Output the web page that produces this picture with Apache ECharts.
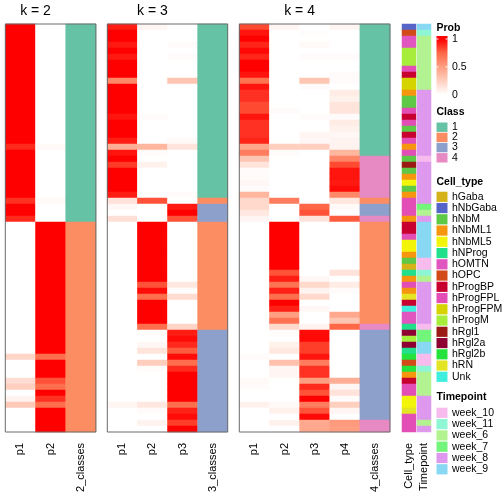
<!DOCTYPE html>
<html><head><meta charset="utf-8">
<script src="https://cdn.jsdelivr.net/npm/echarts/dist/echarts.min.js"></script>
<style>html,body{margin:0;padding:0;background:#fff}#c{width:504px;height:504px}</style>
</head><body><div id="c"></div>
<script>
// ---------- data ----------
const k2Cols = ['p1', 'p2', '2_classes'];
const k3Cols = ['p1', 'p2', 'p3', '3_classes'];
const k4Cols = ['p1', 'p2', 'p3', 'p4', '4_classes'];

const k2_p1 = [
1,1,1,1,1,1,1,1,1,1,
1,1,1,1,1,1,1,1,1,1,
0.9,1,1,1,1,1,1,1,1,0.88,
1,1,0.9,0,0,0,0,0,0,0,
0,0,0,0,0,0,0,0,0,0,
0,0,0,0,0,0.22,0,0,0,0.18,
0.25,0,0.06,0.28,0,0,0,0];
const k2_p2 = [
0,0,0,0,0,0,0,0,0,0,
0,0,0,0,0,0,0,0,0,0,
0.03,0,0,0,0,0,0,0,0,0.03,
0,0,0,1,1,1,1,1,1,1,
1,1,1,1,1,1,1,1,1,1,
1,1,1,1,1,0.72,1,1,1,0.8,
0.72,1,0.88,0.72,1,1,1,1];
const k2_class = [
1,1,1,1,1,1,1,1,1,1,
1,1,1,1,1,1,1,1,1,1,
1,1,1,1,1,1,1,1,1,1,
1,1,1,2,2,2,2,2,2,2,
2,2,2,2,2,2,2,2,2,2,
2,2,2,2,2,2,2,2,2,2,
2,2,2,2,2,2,2,2];

const k3_p1 = [
0.93,1,1,0.94,1,0.94,1,1,1,0.6,
1,1,1,1,1,0.95,1,1,1,0.93,
0.42,0.95,1,0.86,1,1,1,1,0.93,0.15,
0.04,0,0.16,0,0,0,0,0,0,0,
0,0,0,0,0,0,0,0,0,0,
0,0,0,0,0,0,0,0,0,0,
0,0,0,0.05,0,0,0,0];
const k3_p2 = [
0.05,0,0,0,0,0,0,0,0,0,
0,0,0,0,0,0.02,0,0,0,0,
0.38,0.02,0,0.07,0,0,0,0,0,0.8,
0,0,0,1,1,1,1,1,1,1,
1,1,1,0.8,0.97,0.72,1,1,1,1,
0.72,0.01,0,0.04,0.14,0,0.26,0.02,0,0,
0,0,0,0.12,0.02,0,0.06,0];
const k3_p3 = [
0,0,0,0.02,0,0.02,0,0,0,0.3,
0,0,0,0,0,0,0,0,0,0.03,
0.14,0,0,0,0,0,0,0,0.02,0,
0.94,1,0.8,0,0,0,0,0,0,0,
0,0,0,0.12,0.01,0.18,0,0,0,0,
0.22,0.93,0.97,0.9,0.78,0.97,0.72,0.9,1,1,
1,1,1,0.72,0.92,0.97,0.85,1];
const k3_class = [
1,1,1,1,1,1,1,1,1,1,
1,1,1,1,1,1,1,1,1,1,
1,1,1,1,1,1,1,1,1,2,
3,3,3,2,2,2,2,2,2,2,
2,2,2,2,2,2,2,2,2,2,
2,3,3,3,3,3,3,3,3,3,
3,3,3,3,3,3,3,3];

const k4_p1 = [
0.82,0.95,1,0.91,0.98,0.91,1,1,0.95,0.7,
0.95,0.88,0.88,0.82,0.82,0.95,0.88,0.88,0.88,0.91,
0.45,0.65,0.3,0.14,0.02,0.02,0.04,0.02,0.38,0.2,
0.2,0.12,0.05,0,0,0,0,0,0,0,
0,0,0,0,0,0,0,0,0,0,
0,0,0,0,0,0.02,0,0,0,0.03,
0.02,0,0,0.07,0,0,0,0];
const k4_p2 = [
0.05,0,0,0,0,0,0,0,0,0,
0,0,0,0,0.02,0,0,0,0,0,
0.25,0.02,0,0,0,0,0,0,0,0.65,
0,0,0,1,1,1,1,1,1,1,
1,0.8,0.93,0.7,0.92,0.72,1,0.92,0.5,0.7,
0.2,0.01,0,0.07,0.12,0,0.32,0.05,0.05,0,
0,0,0,0.03,0.07,0,0.07,0];
const k4_p3 = [
0,0.01,0,0.03,0,0.02,0,0,0,0.3,
0.02,0,0,0,0,0.02,0,0,0.05,0.04,
0.25,0,0,0,0,0,0,0,0,0,
0.75,0.8,0.15,0,0,0,0,0,0,0,
0,0,0.04,0.2,0.06,0.2,0,0.04,0,0,
0.06,0.97,0.98,0.85,0.85,0.95,0.65,0.88,0.88,0.5,
0.9,0.8,1,0.65,0.8,0.98,0.45,0.45];
const k4_p4 = [
0.05,0,0,0,0,0.02,0,0,0.02,0.02,
0,0.1,0.07,0.14,0.14,0.02,0.1,0.07,0.04,0.06,
0.06,0.38,0.62,0.82,0.95,0.95,0.94,0.97,0.6,0.13,
0.03,0,0.78,0,0,0,0,0,0,0,
0,0.15,0,0.1,0.02,0,0,0,0.45,0.3,
0.75,0,0,0,0,0,0,0,0,0.42,
0.05,0.15,0.02,0.25,0.05,0,0.52,0.5];
const k4_class = [
1,1,1,1,1,1,1,1,1,1,
1,1,1,1,1,1,1,1,1,1,
1,1,4,4,4,4,4,4,4,2,
3,3,4,2,2,2,2,2,2,2,
2,2,2,2,2,2,2,2,2,2,
4,3,3,3,3,3,3,3,3,3,
3,3,3,3,3,3,4,4];

const cellType = [
'hNbGaba','hOPC','hOMTN','hOMTN','hProgM','hProgM','hProgM','hProgFPL','hProgBP','hProgFPM',
'hProgFPM','hNbML1','hNbM','hNbM','hProgFPL','hProgBP','hProgFPL','hNbM','hProgBP','hProgFPL',
'hNbML1','hProgFPL','hNbM','hRgl1','hNbM','hNbML1','hNbML5','hNbM','hNbML1','hProgFPL',
'hProgFPL','hProgFPL','hNbML1','hProgBP','hProgBP','hProgFPL','hNbML5','hNbML5','hNbML1','hNbM',
'hGaba','hNProg','hNbML1','hProgFPL','hNbML1','hRN','hProgBP','Unk','hOMTN','hOMTN',
'hNProg','hRgl2a','hProgM','hRgl2a','hNProg','hRgl2b','hOPC','hRgl2b','hNbML1','hProgBP',
'hProgFPL','hProgFPL','hNbML5','hNbML5','hRN','hProgFPL','hProgFPL','hProgFPL'];
const timepoint = [
'week_9','week_11','week_6','week_6','week_6','week_6','week_6','week_6','week_6','week_6',
'week_6','week_8','week_8','week_8','week_8','week_8','week_8','week_8','week_8','week_8',
'week_8','week_8','week_10','week_8','week_8','week_8','week_8','week_8','week_8','week_8',
'week_7','week_6','week_8','week_9','week_9','week_9','week_9','week_9','week_9','week_10',
'week_10','week_11','week_6','week_8','week_8','week_8','week_8','week_8','week_8','week_8',
'week_10','week_7','week_7','week_9','week_9','week_10','week_10','week_11','week_6','week_6',
'week_6','week_6','week_8','week_8','week_8','week_8','week_6','week_8'];

const classNames = ['1','2','3','4'];
const classColors = ['#66C2A5','#FC8D62','#8DA0CB','#E78AC3'];
const cellTypeNames = ['hGaba','hNbGaba','hNbM','hNbML1','hNbML5','hNProg','hOMTN','hOPC','hProgBP','hProgFPL','hProgFPM','hProgM','hRgl1','hRgl2a','hRgl2b','hRN','Unk'];
const cellTypeColors = ['#D4B218','#5566C8','#5EC847','#F6960E','#F2F50A','#20E08C','#E055C0','#D24A17','#C8002F','#E24DB6','#D5D400','#A7EE3C','#9A1B16','#8F0032','#26E23D','#E3E423','#40EEDD'];
const timeNames = ['week_10','week_11','week_6','week_7','week_8','week_9'];
const timeColors = ['#F8BBEE','#8EF6D4','#B2F290','#72F57A','#DE99EE','#88D7F3'];
const probTicks = ['1','0.5','0'];
const probColors = ['#FFFFFF','#FFCFBF','#FF9E81','#FF6746','#FF0000'];

// ---------- layout ----------
const FONT = "'Liberation Sans', Arial, Helvetica, sans-serif";
const TOP = 24, HEIGHT = 408;
const rowIds = k2_p1.map((_, i) => String(i));
const panels = [
  {left: 5.3, width: 90.6, cols: k2Cols, probs: [k2_p1, k2_p2], cls: k2_class, title: 'k = 2'},
  {left: 107.3, width: 120.4, cols: k3Cols, probs: [k3_p1, k3_p2, k3_p3], cls: k3_class, title: 'k = 3'},
  {left: 239.3, width: 150.7, cols: k4Cols, probs: [k4_p1, k4_p2, k4_p3, k4_p4], cls: k4_class, title: 'k = 4'}
];
const annots = [
  {left: 402, width: 14, name: 'Cell_type', vals: cellType.map(v => cellTypeNames.indexOf(v))},
  {left: 417, width: 14, name: 'Timepoint', vals: timepoint.map(v => timeNames.indexOf(v))}
];

const grids = [], xAxes = [], yAxes = [], series = [], graphics = [];
const probSeries = [], classSeries = [];
function xAxisFor(gi, cols) {
  return {type: 'category', gridIndex: gi, data: cols, position: 'bottom',
    axisLine: {show: false}, axisTick: {show: false}, splitLine: {show: false},
    axisLabel: {rotate: 90, fontSize: 11, color: '#000', margin: 11, fontFamily: FONT, interval: 0}};
}
function yAxisFor(gi) {
  return {type: 'category', gridIndex: gi, data: rowIds, inverse: true, show: false};
}
const hmBase = {type: 'heatmap', itemStyle: {borderWidth: 0}, emphasis: {disabled: true}, silent: true, progressive: 0, animation: false};

panels.forEach((p, gi) => {
  grids.push({left: p.left, top: TOP, width: p.width, height: HEIGHT});
  xAxes.push(xAxisFor(gi, p.cols));
  yAxes.push(yAxisFor(gi));
  const pd = [];
  p.probs.forEach((arr, ci) => arr.forEach((v, ri) => pd.push([ci, ri, v])));
  probSeries.push(series.length);
  series.push(Object.assign({}, hmBase, {xAxisIndex: gi, yAxisIndex: gi, data: pd}));
  const cd = p.cls.map((v, ri) => [p.probs.length, ri, v]);
  classSeries.push(series.length);
  series.push(Object.assign({}, hmBase, {xAxisIndex: gi, yAxisIndex: gi, data: cd}));
  graphics.push({type: 'rect', z: 100, silent: true,
    shape: {x: p.left, y: TOP, width: p.width, height: HEIGHT},
    style: {fill: null, stroke: '#6a6a6a', lineWidth: 1}});
  const colW = p.width / p.cols.length;
  graphics.push({type: 'text', z: 100, silent: true, x: p.left + colW * p.probs.length / 2, y: 11,
    style: {text: p.title, font: '14px ' + FONT, fill: '#000', textAlign: 'center', textVerticalAlign: 'middle'}});
});
const annotSeries = [];
annots.forEach((a, ai) => {
  const gi = panels.length + ai;
  grids.push({left: a.left, top: TOP, width: a.width, height: HEIGHT});
  xAxes.push(xAxisFor(gi, [a.name]));
  yAxes.push(yAxisFor(gi));
  annotSeries.push(series.length);
  series.push(Object.assign({}, hmBase, {xAxisIndex: gi, yAxisIndex: gi, data: a.vals.map((v, ri) => [0, ri, v])}));
});

// ---------- legends (graphic) ----------
const LX = 436.5, LTX = 452;
function title(text, y) {
  graphics.push({type: 'text', silent: true, x: LX, y: y,
    style: {text: text, font: 'bold 10.5px ' + FONT, fill: '#000', textVerticalAlign: 'middle'}});
}
function label(text, y) {
  graphics.push({type: 'text', silent: true, x: LTX, y: y,
    style: {text: text, font: '10.5px ' + FONT, fill: '#000', textVerticalAlign: 'middle'}});
}
// Prob
title('Prob', 28);
const pTop = 36, pH = 60, y1 = 39, y0 = 94.7;
const off = v => (y1 + (1 - v) * (y0 - y1) - pTop) / pH;
graphics.push({type: 'rect', silent: true, shape: {x: LX, y: pTop, width: 11, height: pH},
  style: {fill: {type: 'linear', x: 0, y: 0, x2: 0, y2: 1, colorStops: [
    {offset: 0, color: probColors[4]}, {offset: off(1), color: probColors[4]},
    {offset: off(0.75), color: probColors[3]}, {offset: off(0.5), color: probColors[2]},
    {offset: off(0.25), color: probColors[1]}, {offset: off(0), color: probColors[0]},
    {offset: 1, color: probColors[0]}]}}});
probTicks.forEach((t, i) => {
  const yy = y1 + i * (y0 - y1) / 2;
  graphics.push({type: 'line', silent: true, shape: {x1: LX, y1: yy, x2: LX + 2, y2: yy}, style: {stroke: '#fff', lineWidth: 1}});
  graphics.push({type: 'line', silent: true, shape: {x1: LX + 9, y1: yy, x2: LX + 11, y2: yy}, style: {stroke: '#fff', lineWidth: 1}});
  label(t, yy);
});
// Class
title('Class', 112);
classNames.forEach((n, i) => {
  const yy = 122.5 + i * 10.2;
  graphics.push({type: 'rect', silent: true, shape: {x: LX, y: yy, width: 11, height: 9.4}, style: {fill: classColors[i]}});
  label(n, yy + 4.7);
});
// Cell_type
title('Cell_type', 182);
cellTypeNames.forEach((n, i) => {
  const yy = 191.7 + i * 11.25;
  graphics.push({type: 'rect', silent: true, shape: {x: LX, y: yy, width: 11, height: 10.2}, style: {fill: cellTypeColors[i]}});
  label(n, yy + 5.1);
});
// Timepoint
title('Timepoint', 397);
timeNames.forEach((n, i) => {
  const yy = 407.7 + i * 11.3;
  graphics.push({type: 'rect', silent: true, shape: {x: LX, y: yy, width: 11, height: 10.2}, style: {fill: timeColors[i]}});
  label(n, yy + 5.1);
});

const option = {
  animation: false,
  backgroundColor: '#fff',
  grid: grids, xAxis: xAxes, yAxis: yAxes, series: series,
  visualMap: [
    {type: 'continuous', show: false, min: 0, max: 1, dimension: 2, seriesIndex: probSeries, inRange: {color: probColors}},
    {type: 'piecewise', show: false, dimension: 2, seriesIndex: classSeries,
      pieces: classColors.map((c, i) => ({value: i + 1, color: c}))},
    {type: 'piecewise', show: false, dimension: 2, seriesIndex: annotSeries[0],
      pieces: cellTypeColors.map((c, i) => ({value: i, color: c}))},
    {type: 'piecewise', show: false, dimension: 2, seriesIndex: annotSeries[1],
      pieces: timeColors.map((c, i) => ({value: i, color: c}))}
  ],
  graphic: {elements: graphics}
};
const chart = echarts.init(document.getElementById('c'), null, {renderer: 'canvas'});
chart.setOption(option);
</script></body></html>
